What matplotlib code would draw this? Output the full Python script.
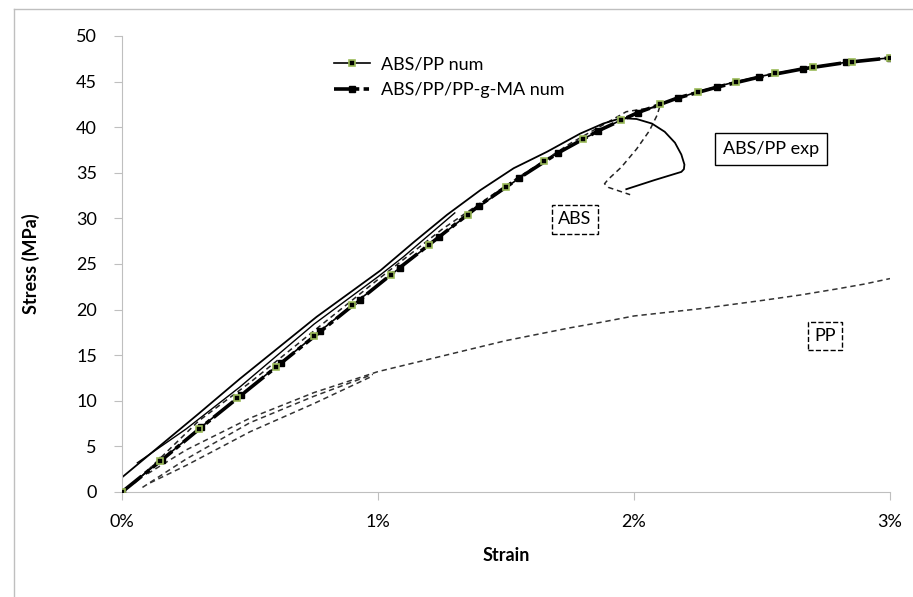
import matplotlib
matplotlib.use("Agg")
import matplotlib.pyplot as plt
from matplotlib.ticker import PercentFormatter
from matplotlib.lines import Line2D

plt.rcParams['font.family'] = ['Lato', 'DejaVu Sans']

# numerical models (strain in %, stress in MPa)
num_strain = [0, 0.15, 0.30, 0.45, 0.60, 0.75, 0.90, 1.05, 1.20, 1.35, 1.50,
              1.65, 1.80, 1.95, 2.10, 2.25, 2.40, 2.55, 2.70, 2.85, 3.00]
num_stress = [0, 3.4, 6.9, 10.3, 13.7, 17.1, 20.5, 23.8, 27.1, 30.4, 33.4,
              36.3, 38.7, 40.8, 42.5, 43.9, 45.0, 45.9, 46.6, 47.2, 47.6]

ma_strain = [0, 0.155, 0.31, 0.465, 0.62, 0.775, 0.93, 1.085, 1.24, 1.395, 1.55,
             1.705, 1.86, 2.015, 2.17, 2.325, 2.49, 2.66, 2.83, 3.00]
ma_stress = [0, 3.5, 7.1, 10.6, 14.1, 17.6, 21.1, 24.6, 28.0, 31.4, 34.4,
             37.2, 39.6, 41.6, 43.2, 44.4, 45.5, 46.4, 47.1, 47.6]

# experiments
exp1_strain = [0, 0.30, 0.46, 0.76, 1.01, 1.14, 1.27, 1.40, 1.53, 1.66, 1.79,
               1.88, 1.95, 2.01, 2.07, 2.12, 2.16, 2.185, 2.197, 2.195, 2.185,
               2.08, 1.97]
exp1_stress = [1.6, 8.6, 12.4, 19.2, 24.3, 27.4, 30.4, 33.1, 35.5, 37.3, 39.3,
               40.4, 41.0, 40.9, 40.4, 39.5, 38.3, 37.0, 35.9, 35.4, 35.1,
               34.2, 33.2]
exp2_strain = [0.06, 0.25, 0.46, 0.75, 1.00, 1.10, 1.30]
exp2_stress = [3.2, 6.9, 11.5, 18.4, 23.6, 25.8, 30.6]

abs_strain = [0.05, 0.30, 0.50, 0.76, 1.00, 1.25, 1.50, 1.75, 1.97, 2.06, 2.10,
              2.09, 2.06, 2.01, 1.95, 1.90, 1.885, 1.90, 1.985]
abs_stress = [1.0, 7.8, 12.0, 17.9, 23.3, 28.8, 33.6, 38.2, 41.7, 42.1, 42.2,
              41.3, 39.6, 37.6, 35.6, 34.3, 33.8, 33.4, 32.6]

pp1_strain = [0.10, 0.25, 0.50, 0.75, 1.00, 1.25, 1.50, 1.75, 1.87, 2.00, 2.26,
              2.50, 2.65, 2.80, 2.90, 3.00]
pp1_stress = [2.0, 4.6, 8.1, 10.9, 13.2, 14.9, 16.6, 18.0, 18.6, 19.3, 20.1,
              21.0, 21.6, 22.3, 22.8, 23.4]
pp2_strain = [0.08, 0.25, 0.50, 0.75, 0.98]
pp2_stress = [0.5, 3.6, 7.6, 10.5, 12.9]
pp3_strain = [0.11, 0.25, 0.50, 0.75, 0.97]
pp3_stress = [1.0, 2.9, 6.6, 9.7, 12.6]

fig = plt.figure(figsize=(9.13, 5.97), dpi=100)
ax = fig.add_axes([0.1336, 0.1759, 0.8412, 0.7638])

# outer frame (cropped on right and bottom)
fig.add_artist(Line2D([0.0153, 0.0153], [-0.1, 0.985], color='#bfbfbf', lw=1))
fig.add_artist(Line2D([0.0153, 1.1], [0.985, 0.985], color='#bfbfbf', lw=1))

dash = (0, (3.5, 2.5))
ax.plot(pp1_strain, pp1_stress, color='#333333', lw=1.1, ls=dash)
ax.plot(pp2_strain, pp2_stress, color='#333333', lw=1.1, ls=dash)
ax.plot(pp3_strain, pp3_stress, color='#333333', lw=1.1, ls=dash)
ax.plot(abs_strain, abs_stress, color='#222222', lw=1.1, ls=dash)
ax.plot(exp1_strain, exp1_stress, color='black', lw=1.3)
ax.plot(exp2_strain, exp2_stress, color='black', lw=1.0)

ax.plot(ma_strain, ma_stress, color='black', lw=2.6, ls=(0, (7, 1.2, 1.5, 1.2)),
        marker='s', markersize=5, markerfacecolor='black', markeredgecolor='black',
        label='ABS/PP/PP-g-MA num', zorder=4)
ax.plot(num_strain, num_stress, color='black', lw=1.2, marker='s', markersize=5,
        markerfacecolor='black', markeredgecolor='#9bbb59', markeredgewidth=1.2,
        label='ABS/PP num', zorder=5)

ax.set_xlim(0, 3)
ax.set_ylim(0, 50)
ax.set_xticks([0, 1, 2, 3])
ax.set_yticks(range(0, 51, 5))
ax.xaxis.set_major_formatter(PercentFormatter(100, decimals=0))
for s in ['top', 'right']:
    ax.spines[s].set_visible(False)
for s in ['left', 'bottom']:
    ax.spines[s].set_color('#bfbfbf')
ax.tick_params(axis='both', colors='#bfbfbf', labelcolor='black', labelsize=13,
               length=6, direction='out')
ax.tick_params(axis='y', pad=12)
ax.tick_params(axis='x', pad=10)
ax.set_xlabel('Strain', fontsize=13, fontweight='bold', labelpad=12)
ax.set_ylabel('Stress (MPa)', fontsize=13, fontweight='bold', labelpad=26)

handles, labels = ax.get_legend_handles_labels()
ax.legend(handles[::-1], labels[::-1], loc='upper left', bbox_to_anchor=(0.255, 0.99),
          frameon=False, fontsize=13, handlelength=2.0, handletextpad=0.6,
          labelspacing=0.5)

ax.text(2.535, 37.6, 'ABS/PP exp', fontsize=13, ha='center', va='center',
        bbox=dict(boxstyle='square,pad=0.45', fc='white', ec='black', lw=1))
ax.text(1.77, 29.9, 'ABS', fontsize=13, ha='center', va='center',
        bbox=dict(boxstyle='square,pad=0.35', fc='white', ec='black', lw=1, ls='--'))
ax.text(2.746, 17.1, 'PP', fontsize=13, ha='center', va='center',
        bbox=dict(boxstyle='square,pad=0.35', fc='white', ec='black', lw=1, ls='--'))

fig.savefig('out.png', dpi=100)
